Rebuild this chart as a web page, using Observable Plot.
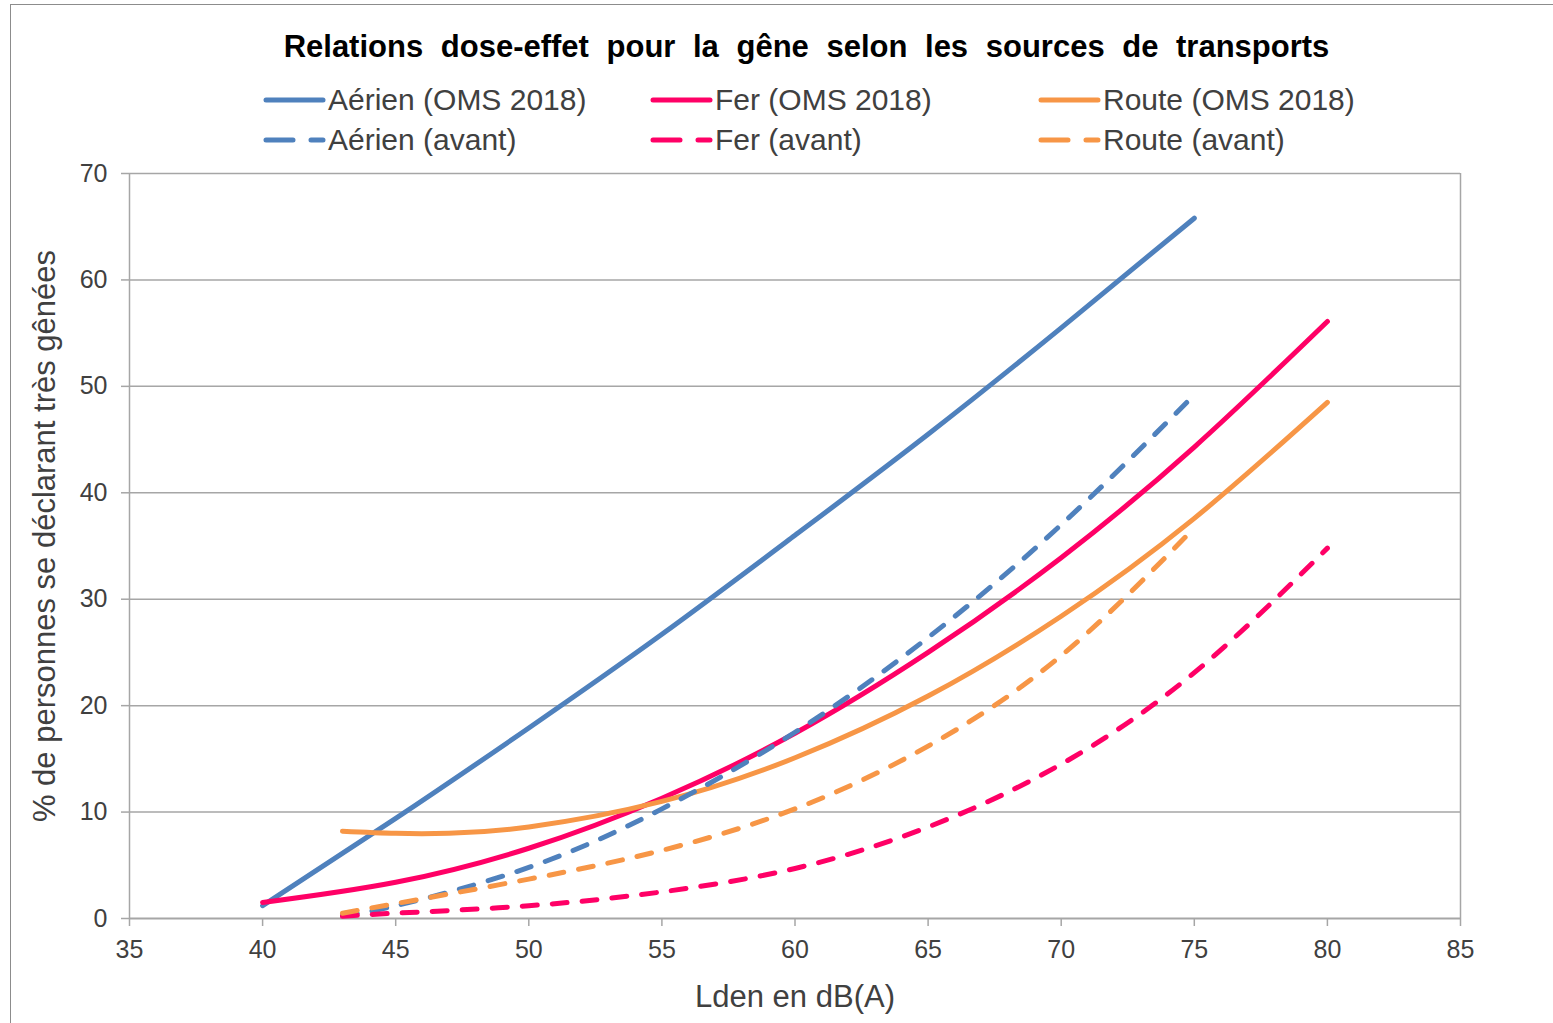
<!DOCTYPE html>
<html><head><meta charset="utf-8">
<script src="https://cdn.jsdelivr.net/npm/d3@7"></script>
<script src="https://cdn.jsdelivr.net/npm/@observablehq/plot@0.6"></script>
<style>
body{margin:0;background:#fff;}
#wrap{position:relative;width:1553px;height:1023px;overflow:hidden;font-family:"Liberation Sans",Arial,sans-serif;color:#404040;}
#frame{position:absolute;left:10px;top:4px;width:1560px;height:1040px;border-left:1.5px solid #8c8c8c;border-top:1.5px solid #8c8c8c;}
#title{position:absolute;left:0;width:1613px;top:29px;text-align:center;font-weight:bold;font-size:31px;color:#000;word-spacing:9px;}
.leg{position:absolute;font-size:30px;height:36px;line-height:36px;white-space:nowrap;display:flex;align-items:center;}
.leg svg{margin-right:2px;}
#chart{position:absolute;left:0;top:0;}
</style></head><body>
<div id="wrap">
 <div id="frame"></div>
 <div id="title">Relations dose-effet pour la gêne selon les sources de transports</div>
 <div id="legend"></div>
 <div id="chart"></div>
</div>
<script>
// ---- Data (Lden in dB(A), % very annoyed) ----
const seriesNames = ["Aérien (OMS 2018)", "Fer (OMS 2018)", "Route (OMS 2018)", "Aérien (avant)", "Fer (avant)", "Route (avant)"];
const seriesColors = ["#4f81bd", "#ff0066", "#f79646", "#4f81bd", "#ff0066", "#f79646"];
const seriesDashed = [false, false, false, true, true, true];

const lden_aerienOMS = [40, 45, 50, 55, 60, 65, 70, 75];
const val_aerienOMS  = [1.2, 9.4, 17.9, 26.7, 36.0, 45.5, 55.5, 65.8];

const lden_ferOMS = [40, 45, 50, 55, 60, 65, 70, 75, 80];
const val_ferOMS  = [1.5, 3.4, 6.6, 11.3, 17.4, 25.0, 33.9, 44.3, 56.1];

const lden_routeOMS = [43, 45, 47, 50, 55, 60, 65, 70, 75, 80];
const val_routeOMS  = [8.2, 8.0, 8.0, 8.6, 11.0, 15.1, 20.9, 28.4, 37.6, 48.5];

const lden_aerienAvant = [43, 45, 50, 55, 60, 65, 70, 75];
const val_aerienAvant  = [0.3, 1.2, 4.8, 10.3, 17.5, 26.4, 37.0, 49.2];

const lden_ferAvant = [43, 45, 50, 55, 60, 65, 70, 75, 80];
const val_ferAvant  = [0.2, 0.5, 1.2, 2.5, 4.7, 8.6, 14.5, 23.1, 34.8];

const lden_routeAvant = [43, 45, 50, 55, 60, 65, 70, 75];
const val_routeAvant  = [0.5, 1.4, 3.7, 6.4, 10.3, 16.2, 24.7, 36.7];

const xTicks = [35, 40, 45, 50, 55, 60, 65, 70, 75, 80, 85];
const yTicks = [0, 10, 20, 30, 40, 50, 60, 70];
const xTitle = "Lden en dB(A)";
const yTitle = "% de personnes se déclarant très gênées";

const allLden = [lden_aerienOMS, lden_ferOMS, lden_routeOMS, lden_aerienAvant, lden_ferAvant, lden_routeAvant];
const allVals = [val_aerienOMS, val_ferOMS, val_routeOMS, val_aerienAvant, val_ferAvant, val_routeAvant];

const rows = allLden.map((xs, i) => xs.map((x, j) => ({series: seriesNames[i], x, y: allVals[i][j]})));

const textColor = "#404040";
const gridColor = "#a6a6a6";

const lineMarks = rows.map((data, i) => Plot.line(data, {
  x: "x", y: "y", stroke: seriesColors[i], strokeWidth: 5,
  strokeDasharray: seriesDashed[i] ? "15,15" : null,
  strokeLinecap: "round", strokeLinejoin: "round", curve: "natural"
}));

const chart = Plot.plot({
  width: 1553, height: 1023,
  marginLeft: 129, marginRight: 93, marginTop: 173, marginBottom: 105,
  style: {fontFamily: '"Liberation Sans", Arial, sans-serif', color: textColor, background: "transparent", overflow: "visible"},
  x: {domain: [35, 85]},
  y: {domain: [0, 70]},
  marks: [
    Plot.ruleY(yTicks.slice(1), {stroke: gridColor, strokeWidth: 1.5}),
    Plot.ruleX([85], {stroke: gridColor, strokeWidth: 1.5}),
    Plot.ruleX([35], {stroke: gridColor, strokeWidth: 1.5}),
    Plot.ruleY([0], {stroke: gridColor, strokeWidth: 2}),
    Plot.axisX({ticks: xTicks, tickSize: 8, tickPadding: 14, fontSize: 25, label: null, stroke: gridColor, strokeWidth: 1.5, tickFormat: d => String(d)}),
    Plot.axisY({ticks: yTicks, tickSize: 8, tickPadding: 14, fontSize: 25, label: null, stroke: gridColor, strokeWidth: 1.5, tickFormat: d => String(d)}),
    Plot.text([xTitle], {frameAnchor: "bottom", dy: 79, lineAnchor: "middle", fontSize: 31, fill: textColor}),
    Plot.text([yTitle], {frameAnchor: "left", rotate: -90, dx: -84, dy: -10, textAnchor: "middle", lineAnchor: "middle", fontSize: 31, fill: textColor}),
    ...lineMarks
  ]
});
document.getElementById("chart").appendChild(chart);

// ---- Legend ----
const legendPos = [[262, 100], [649, 100], [1037, 100], [262, 140], [649, 140], [1037, 140]];
const legend = document.getElementById("legend");
seriesNames.forEach((name, i) => {
  const el = document.createElement("div");
  el.className = "leg";
  el.style.left = legendPos[i][0] + "px";
  el.style.top = (legendPos[i][1] - 18) + "px";
  const dash = seriesDashed[i] ? 'stroke-dasharray="27,18"' : "";
  el.innerHTML = `<svg width="64" height="10"><line x1="4" y1="5" x2="61" y2="5" stroke="${seriesColors[i]}" stroke-width="5" stroke-linecap="round" ${dash}/></svg><span>${name}</span>`;
  legend.appendChild(el);
});
</script>
</body></html>
